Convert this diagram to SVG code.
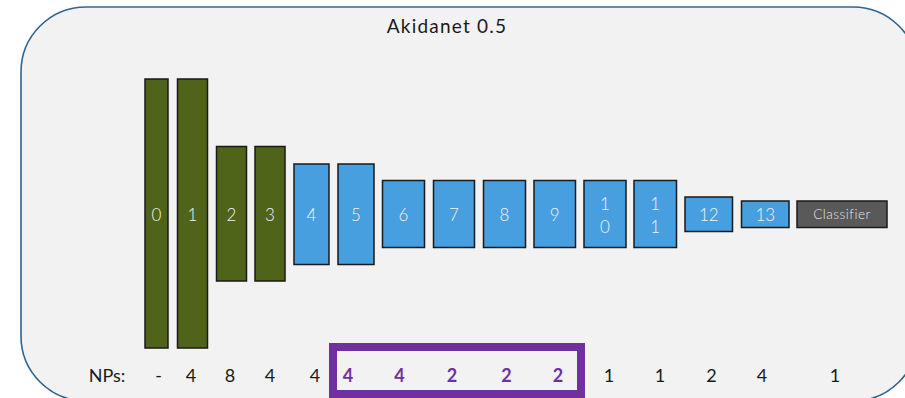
<svg xmlns="http://www.w3.org/2000/svg" width="905" height="398" viewBox="0 0 905 398">
  <defs>
    <style>
      .panel { fill: #f2f2f2; stroke: #2f6592; stroke-width: 1.6; }
      .title { font-family: "Lato", "Liberation Sans", sans-serif; font-size: 19px; letter-spacing: 1.2px; fill: #1a1a1a; text-anchor: middle; }
      .bar { stroke: #1a1a1a; stroke-width: 1.5; }
      .green { fill: #4f6419; }
      .blue { fill: #479fdf; }
      .dark { fill: #595959; }
      .lbl { font-family: "Lato", "Liberation Sans", sans-serif; font-weight: 300; font-size: 17px; fill: #eef2f6; text-anchor: middle; dominant-baseline: central; }
      .clbl { font-family: "Lato", "Liberation Sans", sans-serif; font-weight: 300; font-size: 13.5px; letter-spacing: 0.5px; fill: #e6e6e6; text-anchor: middle; dominant-baseline: central; }
      .np { font-family: "Lato", "Liberation Sans", sans-serif; font-size: 18px; fill: #1a1a1a; text-anchor: middle; }
      .npp { font-family: "Lato", "Liberation Sans", sans-serif; font-size: 18px; font-weight: bold; fill: #7030a0; text-anchor: middle; }
      .hl { fill: none; stroke: #7030a0; stroke-width: 8; }
    </style>
  </defs>

  <!-- outer panel, rounded corners, running off the right and bottom edges -->
  <path class="panel" d="M86 7 H853 A65 65 0 0 1 918 72 V336 A65 65 0 0 1 853 401 H86 A65 65 0 0 1 21 336 V72 A65 65 0 0 1 86 7 Z"/>
  <text class="title" x="447" y="33">Akidanet 0.5</text>

  <!-- layers -->
  <g id="layer0"><rect class="bar green" x="145" y="79" width="23" height="269"/><text class="lbl" x="156.5" y="214">0</text></g>
  <g id="layer1"><rect class="bar green" x="177.5" y="79" width="30" height="269"/><text class="lbl" x="192.5" y="214">1</text></g>
  <g id="layer2"><rect class="bar green" x="216.5" y="146.5" width="30" height="134.5"/><text class="lbl" x="231.5" y="214">2</text></g>
  <g id="layer3"><rect class="bar green" x="255" y="146.5" width="30" height="134.5"/><text class="lbl" x="270" y="214">3</text></g>
  <g id="layer4"><rect class="bar blue" x="294" y="164" width="35" height="100.5"/><text class="lbl" x="311.5" y="214">4</text></g>
  <g id="layer5"><rect class="bar blue" x="338" y="164" width="36" height="100.5"/><text class="lbl" x="356" y="214">5</text></g>
  <g id="layer6"><rect class="bar blue" x="382.5" y="180.5" width="42" height="67"/><text class="lbl" x="403.5" y="214">6</text></g>
  <g id="layer7"><rect class="bar blue" x="433.5" y="180.5" width="41" height="67"/><text class="lbl" x="454" y="214">7</text></g>
  <g id="layer8"><rect class="bar blue" x="483.5" y="180.5" width="42" height="67"/><text class="lbl" x="504.5" y="214">8</text></g>
  <g id="layer9"><rect class="bar blue" x="534" y="180.5" width="41.5" height="67"/><text class="lbl" x="554.75" y="214">9</text></g>
  <g id="layer10"><rect class="bar blue" x="584" y="180.5" width="42" height="67"/><text class="lbl" x="605" y="203">1</text><text class="lbl" x="605" y="226">0</text></g>
  <g id="layer11"><rect class="bar blue" x="634" y="180.5" width="42.5" height="67"/><text class="lbl" x="655.25" y="203">1</text><text class="lbl" x="655.25" y="226">1</text></g>
  <g id="layer12"><rect class="bar blue" x="685" y="197" width="47.5" height="34.5"/><text class="lbl" x="708.75" y="214">12</text></g>
  <g id="layer13"><rect class="bar blue" x="741.5" y="201" width="47.5" height="26.5"/><text class="lbl" x="765.25" y="214">13</text></g>
  <g id="classifier"><rect class="bar dark" x="797" y="201" width="90" height="26.5"/><text class="clbl" x="842" y="214">Classifier</text></g>

  <!-- NP counts -->
  <g id="nps">
    <text class="np" x="107" y="382">NPs:</text>
    <text class="np" x="158.5" y="382">-</text>
    <text class="np" x="191" y="382">4</text>
    <text class="np" x="230" y="382">8</text>
    <text class="np" x="270" y="382">4</text>
    <text class="np" x="315" y="382">4</text>
    <text class="npp" x="348" y="382">4</text>
    <text class="npp" x="399.5" y="382">4</text>
    <text class="npp" x="452" y="382">2</text>
    <text class="npp" x="506.5" y="382">2</text>
    <text class="npp" x="558" y="382">2</text>
    <text class="np" x="609" y="382">1</text>
    <text class="np" x="660" y="382">1</text>
    <text class="np" x="711.5" y="382">2</text>
    <text class="np" x="762" y="382">4</text>
    <text class="np" x="835" y="382">1</text>
  </g>

  <!-- highlight frame -->
  <g id="highlight"><rect class="hl" x="333" y="347" width="248" height="47"/></g>
</svg>
